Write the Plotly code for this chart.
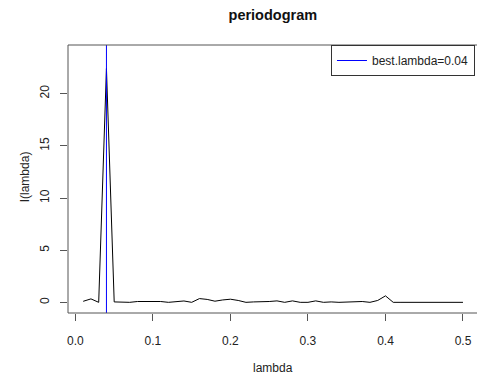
import plotly.graph_objects as go

lam = [round(0.01 * i, 2) for i in range(1, 51)]
I_vals = [0.12, 0.35, 0.02, 22.4, 0.06, 0.02, 0.02, 0.1, 0.1, 0.1,
          0.1, 0.02, 0.1, 0.15, 0.02, 0.38, 0.3, 0.13, 0.25, 0.32,
          0.2, 0.02, 0.06, 0.06, 0.1, 0.16, 0.02, 0.16, 0.02, 0.02,
          0.16, 0.02, 0.06, 0.02, 0.06, 0.06, 0.1, 0.02, 0.2, 0.64,
          0.02, 0.02, 0.02, 0.02, 0.06, 0.02, 0.02, 0.02, 0.02, 0.02]
best_lambda = 0.04
x_ticks = [0.0, 0.1, 0.2, 0.3, 0.4, 0.5]
x_ticklabels = ["0.0", "0.1", "0.2", "0.3", "0.4", "0.5"]
y_ticks = [0, 5, 10, 15, 20]

AX = "#555555"
TXT = "#222222"
FONT = "Liberation Sans, Arial, sans-serif"

fig = go.Figure()
fig.add_trace(go.Scatter(x=lam, y=I_vals, mode="lines",
                         line=dict(color="black", width=1),
                         showlegend=False, hoverinfo="skip"))
fig.add_shape(type="line", xref="x", yref="paper", x0=best_lambda, x1=best_lambda,
              y0=0, y1=1, line=dict(color="#0000ff", width=1),
              showlegend=True, name=f"best.lambda={best_lambda}")
# plot frame (right edge falls outside the window as in the reference)
fig.add_shape(type="rect", xref="paper", yref="paper", x0=0, x1=1.01, y0=0, y1=1,
              line=dict(color=AX, width=1), layer="above")

fig.update_layout(
    width=477, height=375,
    margin=dict(l=68, r=0, t=45, b=62),
    paper_bgcolor="white", plot_bgcolor="white",
    font=dict(family=FONT, size=12, color=TXT),
    title=dict(text="<b>periodogram</b>", x=0.572, xanchor="center",
               y=1 - 15 / 375, yanchor="middle",
               font=dict(size=14.5, color="#111111", family=FONT)),
    legend=dict(x=0.995, xanchor="right", y=1, yanchor="top",
                bgcolor="white", bordercolor="#333333", borderwidth=1,
                font=dict(size=12, color=TXT, family=FONT),
                itemwidth=30, tracegroupgap=0),
    showlegend=True,
)
fig.update_xaxes(range=[-0.0096, 0.5181], tickvals=x_ticks, ticktext=x_ticklabels,
                 ticks="outside", ticklen=7, tickcolor=AX, tickwidth=1,
                 showgrid=False, zeroline=False, showline=False,
                 ticklabelstandoff=10, tickfont=dict(size=12, color=TXT))
fig.update_yaxes(range=[-1.0, 24.65], tickvals=y_ticks, ticks="outside",
                 ticklen=7, tickcolor=AX, tickwidth=1, tickangle=-90,
                 showgrid=False, zeroline=False, showline=False,
                 ticklabelstandoff=6, tickfont=dict(size=12, color=TXT))
fig.add_annotation(text="lambda", xref="paper", yref="paper",
                   x=0.5, y=-(368 - 312.7) / 268, xanchor="center", yanchor="middle",
                   showarrow=False, font=dict(size=12, color=TXT))
fig.add_annotation(text="I(lambda)", xref="paper", yref="paper",
                   x=-(68 - 25) / 409, y=(312.7 - 177) / 268, xanchor="center",
                   yanchor="middle", textangle=-90,
                   showarrow=False, font=dict(size=12, color=TXT))

fig.write_html("out.html")
